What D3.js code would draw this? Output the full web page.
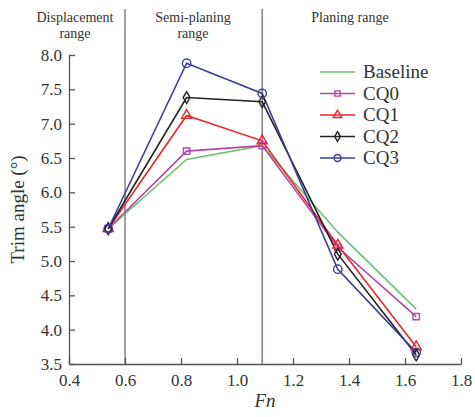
<!DOCTYPE html>
<meta charset="utf-8">
<style>
body { margin: 0; background: #fff; }
svg text { font-family: "Liberation Serif", "Times New Roman", serif; fill: #333; }
</style>
<head>
  <script src="https://d3js.org/d3.v7.min.js"></script>
</head>
<svg width="475" height="417"></svg>
<script>

var fn = [0.54, 0.82, 1.09, 1.36, 1.64];
var baseline = [5.47, 6.48, 6.68, 5.42, 4.30];
var cq0 = [5.47, 6.60, 6.68, 5.20, 4.19];
var cq1 = [5.47, 7.12, 6.75, 5.23, 3.75];
var cq2 = [5.47, 7.38, 7.32, 5.10, 3.63];
var cq3 = [5.47, 7.88, 7.44, 4.88, 3.67];
var xTicks = [0.4, 0.6, 0.8, 1.0, 1.2, 1.4, 1.6, 1.8];
var yTicks = [3.5, 4.0, 4.5, 5.0, 5.5, 6.0, 6.5, 7.0, 7.5, 8.0];
var ranges = [0.6, 1.09];

var series = [
  {name: "Baseline", values: baseline, color: "#6cc274", marker: "none"},
  {name: "CQ0", values: cq0, color: "#b4479f", marker: "square"},
  {name: "CQ1", values: cq1, color: "#e8262c", marker: "triangle"},
  {name: "CQ2", values: cq2, color: "#222222", marker: "diamond"},
  {name: "CQ3", values: cq3, color: "#3c3f98", marker: "circle"}
];

var svg = d3.select("svg"),
    margin = {top: 55, right: 14, bottom: 53, left: 69},
    width = +svg.attr("width") - margin.left - margin.right,
    height = +svg.attr("height") - margin.top - margin.bottom;

var x = d3.scaleLinear().domain([0.4, 1.8]).range([0, width]),
    y = d3.scaleLinear().domain([3.5, 8.0]).range([height, 0]);

var g = svg.append("g")
    .attr("transform", "translate(" + margin.left + "," + margin.top + ")");

// region separators
g.selectAll(".sep")
  .data(ranges)
  .enter().append("line")
    .attr("x1", function(d) { return x(d); })
    .attr("x2", function(d) { return x(d); })
    .attr("y1", 9 - margin.top)
    .attr("y2", height)
    .attr("stroke", "#7a6a66")
    .attr("stroke-width", 1.3);

var xAxis = g.append("g")
    .attr("transform", "translate(0," + height + ")")
    .call(d3.axisBottom(x).tickValues(xTicks).tickSizeInner(-6).tickSizeOuter(0).tickPadding(10)
      .tickFormat(d3.format(".1f")));

var yAxis = g.append("g")
    .call(d3.axisLeft(y).tickValues(yTicks).tickSizeInner(-6).tickSizeOuter(0).tickPadding(7)
      .tickFormat(d3.format(".1f")));

[xAxis, yAxis].forEach(function(a) {
  a.selectAll("path, line").attr("stroke", "#555").attr("stroke-width", 1.3);
  a.selectAll("text").attr("font-size", 17).attr("fill", "#333")
    .attr("font-family", "Liberation Serif, serif");
});

// lines
var line = d3.line()
    .x(function(d, i) { return x(fn[i]); })
    .y(function(d) { return y(d); });

series.forEach(function(s) {
  g.append("path")
    .datum(s.values)
    .attr("fill", "none")
    .attr("stroke", s.color)
    .attr("stroke-width", 1.6)
    .attr("d", line);
});

function drawMarker(sel, type, color, scale) {
  if (type === "none") return;
  var sym = {square: d3.symbolSquare, triangle: d3.symbolTriangle,
             diamond: d3.symbolDiamond, circle: d3.symbolCircle}[type];
  var size = {square: 40, triangle: 45, diamond: 40, circle: 55}[type] * (scale || 1);
  sel.append("path")
    .attr("d", d3.symbol().type(sym).size(size))
    .attr("fill", "none")
    .attr("stroke", color)
    .attr("stroke-width", 1.4);
}

series.forEach(function(s) {
  if (s.marker === "none") return;
  g.selectAll(null)
    .data(s.values)
    .enter().append("g")
      .attr("transform", function(d, i) { return "translate(" + x(fn[i]) + "," + y(d) + ")"; })
      .each(function() { drawMarker(d3.select(this), s.marker, s.color); });
});

// legend
var legend = svg.append("g").attr("transform", "translate(320,72)");
series.forEach(function(s, i) {
  var row = legend.append("g").attr("transform", "translate(0," + (i * 21.5) + ")");
  row.append("line").attr("x1", 0).attr("x2", 35).attr("y1", 0).attr("y2", 0)
    .attr("stroke", s.color).attr("stroke-width", 1.6);
  var m = row.append("g").attr("transform", "translate(17.5,0)");
  drawMarker(m, s.marker, s.color, 0.7);
  row.append("text").attr("x", 43).attr("y", 6).attr("font-size", 19).text(s.name);
});

// axis titles
svg.append("text")
    .attr("transform", "translate(24," + (margin.top + height / 2) + ") rotate(-90)")
    .attr("text-anchor", "middle")
    .attr("font-size", 19)
    .text("Trim angle (°)");

svg.append("text")
    .attr("x", 265).attr("y", 407)
    .attr("text-anchor", "middle")
    .attr("font-size", 19)
    .attr("font-style", "italic")
    .text("Fn");

// range labels
var labels = [
  {x: 75, lines: ["Displacement", "range"]},
  {x: 193, lines: ["Semi-planing", "range"]},
  {x: 350, lines: ["Planing range"]}
];
labels.forEach(function(l) {
  l.lines.forEach(function(t, j) {
    svg.append("text")
      .attr("x", l.x).attr("y", 22 + j * 16)
      .attr("text-anchor", "middle")
      .attr("font-size", 14)
      .text(t);
  });
});

</script>
